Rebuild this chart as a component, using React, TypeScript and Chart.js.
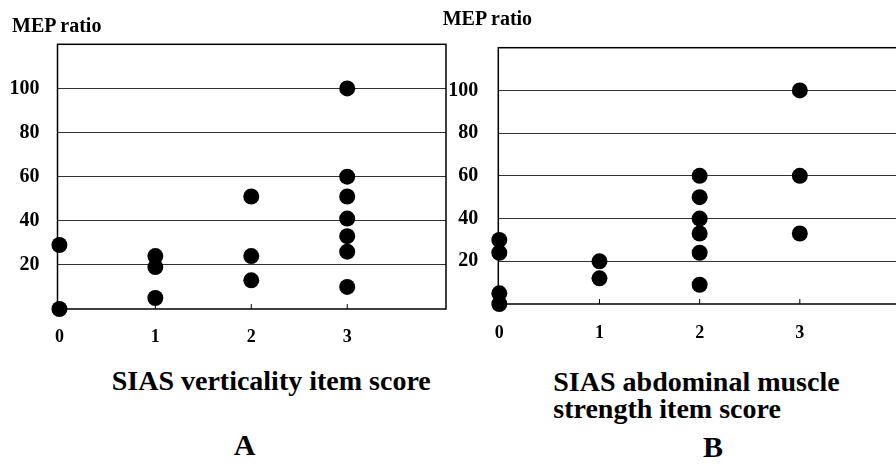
import React, { useEffect, useRef } from "react";
import { Chart, registerables } from "chart.js";

Chart.register(...registerables);

// Panel A: SIAS verticality item score vs MEP ratio
const scoresA = [0, 0, 1, 1, 1, 2, 2, 2, 3, 3, 3, 3, 3, 3, 3];
const mepA = [29, 0, 24, 19, 5, 51, 24, 13, 100, 60, 51, 41, 33, 26, 10];

// Panel B: SIAS abdominal muscle strength item score vs MEP ratio
const scoresB = [0, 0, 0, 0, 1, 1, 2, 2, 2, 2, 2, 2, 3, 3, 3];
const mepB = [30, 24, 5, 0, 20, 12, 60, 50, 40, 33, 24, 9, 100, 60, 33];

const xTickValues = [0, 1, 2, 3];
const yTickValues = [20, 40, 60, 80, 100];
const innerTickValues = [1, 2, 3];

const FONT = "'Liberation Serif', 'Times New Roman', Times, serif";

type PanelCfg = {
  xs: number[];
  ys: number[];
  width: number;
  height: number;
  xMin: number;
  xMax: number;
  yAxisWidth: number;
  padTop: number;
  padRight: number;
  padBottom: number;
  yLabelPad: number;
  xLabelPad: number;
};

const framePlugin = {
  id: "frameAndInnerTicks",
  beforeDatasetsDraw(chart: any) {
    const { ctx, chartArea: a, scales } = chart;
    ctx.save();
    ctx.strokeStyle = "#000";
    ctx.lineWidth = 1.5;
    ctx.strokeRect(a.left, a.top, a.right - a.left, a.bottom - a.top);
    ctx.lineWidth = 1;
    innerTickValues.forEach((v) => {
      const px = scales.x.getPixelForValue(v);
      ctx.beginPath();
      ctx.moveTo(px, a.bottom);
      ctx.lineTo(px, a.bottom - 5);
      ctx.stroke();
    });
    ctx.restore();
  },
};

function Panel({ cfg }: { cfg: PanelCfg }) {
  const ref = useRef<HTMLCanvasElement | null>(null);
  useEffect(() => {
    if (!ref.current) return;
    const points = cfg.xs.map((x, i) => ({ x, y: cfg.ys[i] }));
    const chart = new Chart(ref.current, {
      type: "scatter",
      data: {
        datasets: [
          {
            data: points,
            backgroundColor: "#000",
            borderColor: "#000",
            borderWidth: 0,
            pointRadius: 8,
            pointHoverRadius: 8,
            clip: false as any,
          },
        ],
      },
      options: {
        animation: false,
        responsive: false,
        events: [],
        layout: {
          padding: { left: 0, top: cfg.padTop, right: cfg.padRight, bottom: cfg.padBottom },
        },
        plugins: { legend: { display: false }, tooltip: { enabled: false } },
        scales: {
          x: {
            type: "linear",
            min: cfg.xMin,
            max: cfg.xMax,
            afterBuildTicks: (s: any) => {
              s.ticks = xTickValues.map((v) => ({ value: v }));
            },
            afterFit: (s: any) => {
              s.height = 40;
            },
            grid: { display: false, drawTicks: false },
            border: { display: false },
            ticks: {
              padding: cfg.xLabelPad,
              color: "#000",
              font: { family: FONT, size: 18, weight: "bold" },
              maxRotation: 0,
              autoSkip: false,
            },
          },
          y: {
            type: "linear",
            min: 0,
            max: 120,
            afterBuildTicks: (s: any) => {
              s.ticks = yTickValues.map((v) => ({ value: v }));
            },
            afterFit: (s: any) => {
              s.width = cfg.yAxisWidth;
            },
            grid: { color: "#333", lineWidth: 1, drawTicks: false },
            border: { display: false },
            ticks: {
              padding: cfg.yLabelPad,
              color: "#000",
              font: { family: FONT, size: 20, weight: "bold" },
              autoSkip: false,
            },
          },
        },
      },
      plugins: [framePlugin],
    } as any);
    return () => chart.destroy();
  }, [cfg]);
  return <canvas ref={ref} width={cfg.width} height={cfg.height} style={{ display: "block" }} />;
}

const cfgA: PanelCfg = {
  xs: scoresA,
  ys: mepA,
  width: 460,
  height: 360,
  xMin: -0.02,
  xMax: 4.03,
  yAxisWidth: 57.5,
  padTop: 44.3,
  padRight: 14,
  padBottom: 11,
  yLabelPad: 18,
  xLabelPad: 18,
};

const cfgB: PanelCfg = {
  xs: scoresB,
  ys: mepB,
  width: 470,
  height: 360,
  xMin: -0.01,
  xMax: 4.02,
  yAxisWidth: 58.3,
  padTop: 47.7,
  padRight: 5,
  padBottom: 16,
  yLabelPad: 20,
  xLabelPad: 19,
};

const textBase: React.CSSProperties = {
  position: "absolute",
  fontFamily: FONT,
  fontWeight: "bold",
  color: "#000",
  whiteSpace: "nowrap",
  lineHeight: 1,
};

export default function App() {
  return (
    <div
      style={{
        position: "fixed",
        left: 0,
        top: 0,
        width: 896,
        height: 464,
        overflow: "hidden",
        background: "#fff",
      }}
    >
      <div style={{ position: "absolute", left: 0, top: 0 }}>
        <Panel cfg={cfgA} />
      </div>
      <div style={{ position: "absolute", left: 440, top: 0 }}>
        <Panel cfg={cfgB} />
      </div>

      <div style={{ ...textBase, left: 12, top: 15.3, fontSize: 20 }}>MEP ratio</div>
      <div style={{ ...textBase, left: 442.7, top: 7.8, fontSize: 20 }}>MEP ratio</div>

      <div style={{ ...textBase, left: 111.7, top: 367.2, fontSize: 28 }}>
        SIAS verticality item score
      </div>
      <div style={{ ...textBase, left: 244.7, top: 430, fontSize: 30, transform: "translateX(-50%)" }}>
        A
      </div>

      <div style={{ ...textBase, left: 553.3, top: 368, fontSize: 28, lineHeight: "27px" }}>
        SIAS abdominal muscle
        <br />
        strength item score
      </div>
      <div style={{ ...textBase, left: 713, top: 431.7, fontSize: 30, transform: "translateX(-50%)" }}>
        B
      </div>
    </div>
  );
}
